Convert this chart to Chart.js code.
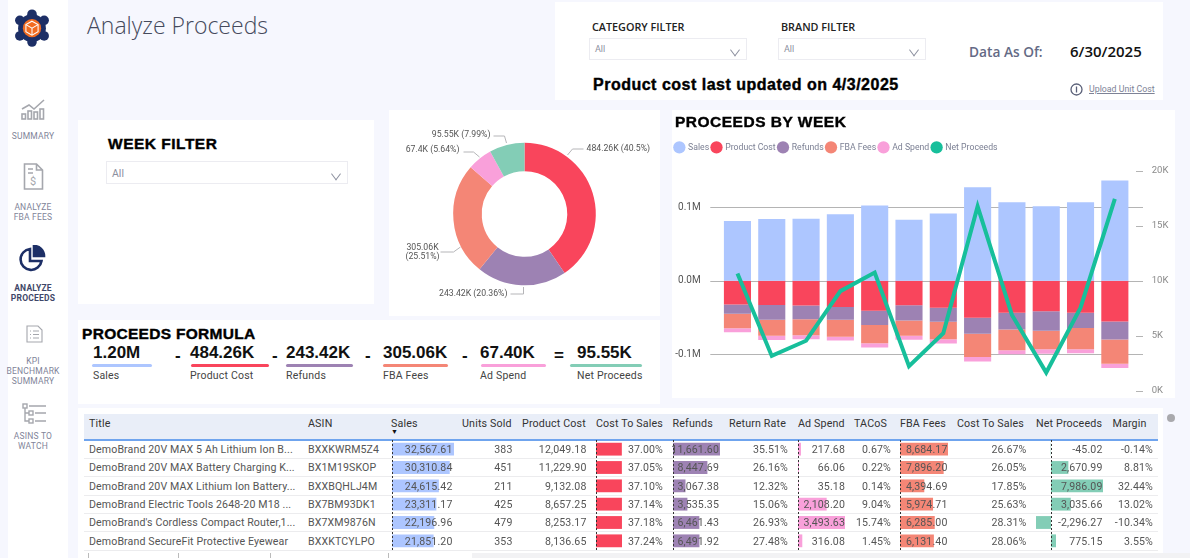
<!DOCTYPE html>
<html>
<head>
<meta charset="utf-8">
<title>Analyze Proceeds</title>
<script src="https://cdn.jsdelivr.net/npm/chart.js@4"></script>
<style>
  html, body { margin: 0; padding: 0; }
  body { width: 1190px; height: 558px; overflow: hidden; position: relative; background: #f6f7fe; font-family: Roboto, sans-serif; }
  .panel { position: absolute; background: #fff; }
  .t { position: absolute; white-space: nowrap; transform: translateY(-50%); }
  .c { transform: translate(-50%, -50%); text-align: center; }
  .black { font-family: "Liberation Sans", Arial, sans-serif; font-weight: 700; color: #000; -webkit-text-stroke: 0.4px #000; }
  .side { font-size: 8.5px; line-height: 10.2px; letter-spacing: 0.2px; color: #7f8499; }
  .drop { position: absolute; background: #fff; border: 1px solid #ececf1; box-sizing: border-box; }
  .drop span { position: absolute; left: 5px; top: 50%; transform: translateY(-50%); font-size: 9px; color: #8b8f9e; }
  .drop i { position: absolute; right: 7px; top: 36%; width: 7px; height: 7px; border-right: 1px solid #8b8f9e; border-bottom: 1px solid #8b8f9e; transform: rotate(45deg) skew(8deg, 8deg); }
  .formula-value { font-family: "Liberation Sans", Arial, sans-serif; font-weight: 700; font-size: 17px; color: #111; }
  .formula-label { font-size: 10.5px; letter-spacing: 0.2px; color: #444; }
  .formula-line { position: absolute; height: 3px; border-radius: 2px; top: 363.5px; }
  canvas { display: block; }
  .chartbox { position: absolute; }
  .th { font-size: 10.7px; letter-spacing: 0.15px; color: #333; z-index: 3; }
  .td { font-size: 10.6px; letter-spacing: 0.12px; color: #555; z-index: 3; }
  .r { transform: translate(-100%, -50%); }
</style>
</head>
<body>
<div class="panel" style="left:8px;top:0;width:60px;height:558px"></div>
<svg style="position:absolute;left:12px;top:9px" width="40" height="40" viewBox="0 0 46 46">
  <g fill="#1d2f66">
    <circle cx="23" cy="22" r="16"/><circle cx="23" cy="6" r="5.5"/><circle cx="23" cy="38" r="5.5"/>
    <circle cx="9" cy="13" r="5.5"/><circle cx="37" cy="13" r="5.5"/><circle cx="9" cy="31" r="5.5"/><circle cx="37" cy="31" r="5.5"/>
  </g>
  <circle cx="23" cy="22" r="10.5" fill="#f26b21"/>
  <path d="M23 14l7 4v8l-7 4-7-4v-8z" fill="#f26b21" stroke="#fff" stroke-width="1.2"/>
  <path d="M16 18l7 4 7-4M23 22v8" fill="none" stroke="#fff" stroke-width="1.2"/>
</svg>
<svg style="position:absolute;left:20px;top:97px" width="27" height="23" viewBox="0 0 27 23" fill="none" stroke="#a5a7ad" stroke-width="1.6">
  <path d="M2 12l7-4 5 4 10-9"/><rect x="2" y="17" width="3.5" height="5"/><rect x="8" y="14" width="3.5" height="8"/><rect x="14" y="15" width="3.5" height="7"/><rect x="20" y="12" width="3.5" height="10"/>
</svg>
<svg style="position:absolute;left:23px;top:163px" width="21" height="27" viewBox="0 0 21 27" fill="none" stroke="#a5a7ad" stroke-width="1.6">
  <path d="M1.500 1h12l6 6v19h-18zM13.500 1v6h6M5 6h5M5 10h5"/><text x="7" y="22" font-size="11" fill="#a5a7ad" stroke="none">$</text>
</svg>
<svg style="position:absolute;left:19px;top:245px" width="27" height="27" viewBox="0 0 27 27" fill="none" stroke="#1d2f66" stroke-width="2.600">
  <path d="M11 4a10.500 10.500 0 1 0 11.500 12h-11.500z"/><path d="M15 1v10h10a10 10 0 0 0-10-10z" fill="#1d2f66"/>
</svg>
<svg style="position:absolute;left:26px;top:325px" width="17" height="18" viewBox="0 0 17 18" fill="none" stroke="#a5a7ad" stroke-width="1.100">
  <path d="M1 1h11l4 4v12h-15zM4 6h1M7 6h6M4 9.500h1M7 9.500h6M4 13h1M7 13h6"/>
</svg>
<svg style="position:absolute;left:22px;top:403px" width="25" height="21" viewBox="0 0 25 21" fill="none" stroke="#a5a7ad" stroke-width="1.400">
  <rect x="1" y="1" width="4" height="4"/><rect x="7" y="8" width="4" height="4"/><rect x="7" y="16" width="4" height="4"/>
  <path d="M3 5v13h4M3 10h4M7 3h17M13 10h11M13 18h11"/>
</svg>
<div class="t c side" style="left:33px;top:136px">SUMMARY</div>
<div class="t c side" style="left:33px;top:212px">ANALYZE<br>FBA FEES</div>
<div class="t c side" style="left:33px;top:293px;color:#3f4768;font-weight:700">ANALYZE<br>PROCEEDS</div>
<div class="t c side" style="left:33px;top:371px">KPI<br>BENCHMARK<br>SUMMARY</div>
<div class="t c side" style="left:33px;top:441px">ASINS TO<br>WATCH</div>

<div class="t" style="left:87px;top:25px;font-family:'Open Sans',sans-serif;font-weight:300;font-size:23px;color:#454a5c">Analyze Proceeds</div>

<div class="panel" style="left:555px;top:2px;width:608px;height:98px"></div>
<div class="t" style="left:592px;top:26px;font-family:'Open Sans',sans-serif;font-weight:600;font-size:10.800px;color:#222">CATEGORY FILTER</div>
<div class="t" style="left:781px;top:26px;font-family:'Open Sans',sans-serif;font-weight:600;font-size:10.800px;color:#222">BRAND FILTER</div>
<div class="drop" style="left:589px;top:38px;width:158px;height:22px"><span>All</span><i></i></div>
<div class="drop" style="left:778px;top:38px;width:148px;height:22px"><span>All</span><i></i></div>
<div class="t" style="left:969px;top:51px;font-family:'Open Sans',sans-serif;font-weight:600;font-size:13.700px;color:#646a85">Data As Of:</div>
<div class="t" style="left:1070px;top:51px;font-family:'Open Sans',sans-serif;font-weight:600;font-size:15px;color:#111">6/30/2025</div>
<div class="t black" style="left:593px;top:85px;font-size:16px;letter-spacing:0.500px">Product cost last updated on 4/3/2025</div>
<svg style="position:absolute;left:1070px;top:83px" width="13" height="13" viewBox="0 0 13 13"><circle cx="6.500" cy="6.500" r="5.500" fill="none" stroke="#5a6078" stroke-width="1.300"/><path d="M6.500 3.500v6" stroke="#5a6078" stroke-width="1.300"/></svg>
<div class="t" style="left:1089px;top:89px;font-size:8.800px;color:#7d8296;text-decoration:underline">Upload Unit Cost</div>

<div class="panel" style="left:78px;top:120px;width:296px;height:184px"></div>
<div class="t black" style="left:108px;top:144px;font-size:15.500px;letter-spacing:0.500px">WEEK FILTER</div>
<div class="drop" style="left:106px;top:161px;width:242px;height:23px"><span style="font-size:10.500px">All</span><i></i></div>

<div class="panel" style="left:389px;top:110px;width:271px;height:206px"></div>
<div class="chartbox" style="left:389px;top:110px;width:271px;height:206px"><canvas id="donutChart"></canvas></div>

<div class="panel" style="left:672px;top:110px;width:503px;height:288px"></div>
<div class="chartbox" style="left:672px;top:110px;width:503px;height:288px"><canvas id="weekChart"></canvas></div>
<div class="t black" style="left:675px;top:122px;font-size:15.500px;letter-spacing:0.500px">PROCEEDS BY WEEK</div>

<div class="panel" style="left:78px;top:320px;width:582px;height:84px"></div>
<div class="t black" style="left:82px;top:334px;font-size:15.500px;letter-spacing:0.300px">PROCEEDS FORMULA</div>
<div id="formula"></div>

<div class="panel" style="left:78px;top:408px;width:1085px;height:150px"></div>
<div style="position:absolute;left:84px;top:414px;width:1074px;height:25px;background:#e9eef8;border-bottom:2px solid #6fa4ee;box-sizing:content-box"></div>
<div style="position:absolute;left:472px;top:553px;width:718px;height:5px;background:#f2f2f4"></div>
<div style="position:absolute;left:1167px;top:414px;width:8px;height:8px;border-radius:50%;background:#a9a9ad"></div>
<div id="table"></div>

<script>
const proceedKeys = ['Sales', 'Product Cost', 'Refunds', 'FBA Fees', 'Ad Spend', 'Net Proceeds'];
const proceedTotals = ['1.20M', '484.26K', '243.42K', '305.06K', '67.40K', '95.55K'];
const palette = ['#adc6ff', '#f9455c', '#9d82b3', '#f48676', '#f9a0da', '#83cdb6'];

// Weekly values
const weeks = ['W1', 'W2', 'W3', 'W4', 'W5', 'W6', 'W7', 'W8', 'W9', 'W10', 'W11', 'W12'];
const weekSales = [81300, 84000, 84400, 90700, 102500, 83100, 91600, 127300, 107000, 101600, 107000, 136800];
const weekCost = [-32500, -33000, -33900, -35700, -41100, -33400, -37000, -50600, -43800, -41500, -43800, -55500];
const weekRefunds = [-12600, -20300, -18500, -17600, -19400, -20800, -19000, -21700, -22600, -26600, -20800, -24800];
const weekFba = [-19900, -21700, -22100, -23000, -24800, -20800, -23900, -31600, -28400, -25300, -28900, -33000];
const weekAds = [-5400, -5900, -5400, -5400, -5900, -5400, -5900, -6300, -5400, -6300, -5400, -5900];
const weekNet = [10650, 3160, 4540, 9050, 10740, 2230, 5230, 16750, 6890, 1650, 7550, 17440];
const leftTicks = [-100000, 0, 100000];
const rightTicks = [0, 5000, 10000, 15000, 20000];

// Doughnut
const donutKeys = ['Product Cost', 'Refunds', 'FBA Fees', 'Ad Spend', 'Net Proceeds'];
const donutValues = [484260, 243420, 305060, 67400, 95550];
const donutLabels = [['484.26K (40.5%)'], ['243.42K (20.36%)'], ['305.06K', '(25.51%)'], ['67.4K (5.64%)'], ['95.55K (7.99%)']];
const donutColors = ['#f9455c', '#9d82b3', '#f48676', '#f9a0da', '#83cdb6'];

// Table rows
const titles = ['DemoBrand 20V MAX 5 Ah Lithium Ion B...', 'DemoBrand 20V MAX Battery Charging K...', 'DemoBrand 20V MAX Lithium Ion Battery...', 'DemoBrand Electric Tools 2648-20 M18 ...', "DemoBrand's Cordless Compact Router,1...", 'DemoBrand SecureFit Protective Eyewear'];
const asins = ['BXXKWRM5Z4', 'BX1M19SKOP', 'BXXBQHLJ4M', 'BX7BM93DK1', 'BX7XM9876N', 'BXXKTCYLPO'];
const sales = [32567.61, 30310.84, 24615.42, 23311.17, 22196.96, 21851.20];
const unitsSold = [383, 451, 211, 425, 479, 353];
const productCost = [12049.18, 11229.90, 9132.08, 8657.25, 8253.17, 8136.65];
const costToSales = [37.00, 37.05, 37.10, 37.14, 37.18, 37.24];
const refunds = [11661.60, 8447.69, 3067.38, 3535.35, 6461.43, 6491.92];
const returnRate = [35.51, 26.16, 12.32, 15.06, 26.93, 27.48];
const adSpend = [217.68, 66.06, 35.18, 2108.20, 3493.63, 316.08];
const tacos = [0.67, 0.22, 0.14, 9.04, 15.74, 1.45];
const fbaFees = [8684.17, 7896.20, 4394.69, 5974.71, 6285.00, 6131.40];
const feeToSales = [26.67, 26.05, 17.85, 25.63, 28.31, 28.06];
const netProceeds = [-45.02, 2670.99, 7986.09, 3035.66, -2296.27, 775.15];
const margin = [-0.14, 8.81, 32.44, 13.02, -10.34, 3.55];

function money(v) {
    return v.toLocaleString('en-US', { minimumFractionDigits: 2, maximumFractionDigits: 2 });
}
function percent(v) {
    return v.toFixed(2) + '%';
}
function addDiv(parent, className, style, html) {
    const el = document.createElement('div');
    el.className = className;
    el.style.cssText = style;
    el.innerHTML = html || '';
    parent.appendChild(el);
    return el;
}

// Formula strip
const formula = document.getElementById('formula');
const formulaX = [93, 190, 286, 383, 480, 577];
const lineX = [[92, 60], [191, 78], [286, 67], [383, 65], [481, 65], [570, 72]];
const formulaOps = [[175, '-'], [272, '-'], [365, '-'], [462, '-'], [554, '=']];
proceedKeys.forEach(function(key, i) {
    addDiv(formula, 't formula-value', 'left:' + formulaX[i] + 'px;top:352.5px', proceedTotals[i]);
    addDiv(formula, 'formula-line', 'left:' + lineX[i][0] + 'px;width:' + lineX[i][1] + 'px;background:' + palette[i]);
    addDiv(formula, 't formula-label', 'left:' + formulaX[i] + 'px;top:375px', key);
});
formulaOps.forEach(function(op) {
    addDiv(formula, 't formula-value', 'left:' + op[0] + 'px;top:356px', op[1]);
});

// Table text
const table = document.getElementById('table');
const rowY = [449, 467.3, 485.6, 503.9, 522.2, 540.5];
const headers = [
    ['Title', 89], ['ASIN', 308], ['Sales', 391], ['Units Sold', 462], ['Product Cost', 522], ['Cost To Sales', 596],
    ['Refunds', 672.5], ['Return Rate', 729], ['Ad Spend', 798], ['TACoS', 854], ['FBA Fees', 900], ['Cost To Sales', 957],
    ['Net Proceeds', 1036], ['Margin', 1112.5]
];
headers.forEach(function(h) {
    addDiv(table, 't th', 'left:' + h[1] + 'px;top:423px', h[0]);
});
addDiv(table, 't th', 'left:391px;top:432px;font-size:7px;line-height:7px;color:#111', '▼');

const columns = [
    [sales, money, 452.5], [unitsSold, String, 512.5], [productCost, money, 586.5], [costToSales, percent, 663],
    [refunds, money, 719], [returnRate, percent, 788], [adSpend, money, 845], [tacos, percent, 891],
    [fbaFees, money, 947.5], [feeToSales, percent, 1026.5], [netProceeds, money, 1102.5], [margin, percent, 1153]
];
rowY.forEach(function(y, r) {
    addDiv(table, 't td', 'left:89px;top:' + y + 'px', titles[r]);
    addDiv(table, 't td', 'left:308px;top:' + y + 'px', asins[r]);
    addDiv(table, '', 'position:absolute;left:84px;width:1074px;height:1px;background:#ececee;top:' + (y + 9.1) + 'px');
    columns.forEach(function(col) {
        addDiv(table, 't td r', 'left:' + col[2] + 'px;top:' + y + 'px', col[1](col[0][r]));
    });
});
[88, 178, 270, 388].forEach(function(x) {
    addDiv(table, '', 'position:absolute;top:553px;height:5px;width:1px;background:#bbb;left:' + x + 'px');
});

// In-cell data bars, one small horizontal bar chart per column
const zeroLine = {
    id: 'zeroLine',
    afterDraw: function(chart) {
        const x = Math.round(chart.scales.x.getPixelForValue(0)) + 0.5;
        const ctx = chart.ctx;
        ctx.save();
        ctx.strokeStyle = '#333';
        ctx.setLineDash([2, 2]);
        ctx.beginPath();
        ctx.moveTo(x, 0);
        ctx.lineTo(x, chart.height);
        ctx.stroke();
        ctx.restore();
    }
};
const barColumns = [
    [sales, palette[0], 391.5, 62],
    [costToSales, palette[1], 596, 26],
    [refunds, palette[2], 672.5, 47.5],
    [adSpend, palette[4], 797.5, 47.5],
    [fbaFees, palette[3], 900, 48],
    [netProceeds, palette[5], 1036, 67]
];
barColumns.forEach(function(col) {
    const box = addDiv(document.body, 'chartbox', 'z-index:2;top:439.9px;height:110px;left:' + col[2] + 'px;width:' + col[3] + 'px', '<canvas></canvas>');
    new Chart(box.firstChild, {
        type: 'bar',
        data: {
            labels: titles,
            datasets: [{ data: col[0], backgroundColor: col[1], barPercentage: 0.7, categoryPercentage: 1 }]
        },
        options: {
            indexAxis: 'y',
            responsive: true,
            maintainAspectRatio: false,
            animation: false,
            events: [],
            plugins: { legend: { display: false }, tooltip: { enabled: false } },
            scales: {
                x: {
                    display: false,
                    min: Math.min(0, Math.min.apply(null, col[0])),
                    max: Math.max.apply(null, col[0])
                },
                y: { display: false }
            }
        },
        plugins: [zeroLine]
    });
});

// Donut with hand placed leader lines, offsets from the centre of the ring
const donutLeaders = [
    { path: [[43, -59], [48, -65], [59, -65]], text: [62, -65], align: 'left' },
    { path: [[-1, 73], [-1, 80], [-14, 80]], text: [-17, 80], align: 'right' },
    { path: [[-64, 33], [-71, 38], [-84, 38]], text: [-102, 34], align: 'center' },
    { path: [[-45, -57], [-51, -62], [-61, -62]], text: [-65, -64], align: 'right' },
    { path: [[-18, -71], [-20, -78], [-31, -78]], text: [-34, -79], align: 'right' }
];
const donutNotes = {
    id: 'donutNotes',
    afterDraw: function(chart) {
        const arc = chart.getDatasetMeta(0).data[0];
        const ctx = chart.ctx;
        ctx.save();
        ctx.strokeStyle = '#b5b5b8';
        ctx.fillStyle = '#555';
        ctx.font = '8.7px Roboto';
        ctx.textBaseline = 'middle';
        donutLeaders.forEach(function(leader, i) {
            ctx.beginPath();
            leader.path.forEach(function(p, k) {
                ctx[k ? 'lineTo' : 'moveTo'](arc.x + p[0], arc.y + p[1]);
            });
            ctx.stroke();
            ctx.textAlign = leader.align;
            donutLabels[i].forEach(function(line, k) {
                ctx.fillText(line, arc.x + leader.text[0], arc.y + leader.text[1] + k * 8.5);
            });
        });
        ctx.restore();
    }
};
new Chart(document.getElementById('donutChart'), {
    type: 'doughnut',
    data: {
        labels: donutKeys,
        datasets: [{ data: donutValues, backgroundColor: donutColors, borderWidth: 0 }]
    },
    options: {
        responsive: true,
        maintainAspectRatio: false,
        animation: false,
        radius: 71.3,
        cutout: '60%',
        layout: { padding: { top: 2 } },
        plugins: { legend: { display: false }, tooltip: { enabled: false } }
    },
    plugins: [donutNotes]
});

// Proceeds by week
const axisMarks = {
    id: 'axisMarks',
    beforeDatasetsDraw: function(chart) {
        const area = chart.chartArea;
        const ctx = chart.ctx;
        ctx.save();
        ctx.strokeStyle = '#b4b4b4';
        ctx.lineWidth = 1;
        leftTicks.forEach(function(v) {
            const y = Math.round(chart.scales.y.getPixelForValue(v)) + 0.5;
            ctx.beginPath();
            ctx.moveTo(area.left - 10, y);
            ctx.lineTo(area.right + 11, y);
            ctx.stroke();
        });
        rightTicks.forEach(function(v) {
            const y = Math.round(chart.scales.y1.getPixelForValue(v)) + 0.5;
            ctx.beginPath();
            ctx.moveTo(area.right + 4, y);
            ctx.lineTo(area.right + 11, y);
            ctx.stroke();
        });
        ctx.restore();
    }
};
const legendGap = {
    id: 'legendGap',
    beforeInit: function(chart) {
        const fit = chart.legend.fit;
        chart.legend.fit = function() {
            fit.call(this);
            this.height += 9;
        };
    }
};
function barSet(label, values, color) {
    return { type: 'bar', label: label, data: values, backgroundColor: color, barPercentage: 0.79, categoryPercentage: 1, order: 1, yAxisID: 'y' };
}
function fixAxis(scale, width) {
    scale.width = width;
    scale.paddingTop = 0;
    scale.paddingBottom = 0;
}
new Chart(document.getElementById('weekChart'), {
    data: {
        labels: weeks,
        datasets: [
            barSet('Sales', weekSales, palette[0]),
            barSet('Product Cost', weekCost, palette[1]),
            barSet('Refunds', weekRefunds, palette[2]),
            barSet('FBA Fees', weekFba, palette[3]),
            barSet('Ad Spend', weekAds, palette[4]),
            {
                type: 'line',
                label: 'Net Proceeds',
                data: weekNet,
                borderColor: '#17bf9b',
                backgroundColor: '#17bf9b',
                borderWidth: 4,
                pointRadius: 0,
                tension: 0,
                order: 0,
                yAxisID: 'y1'
            }
        ]
    },
    options: {
        responsive: true,
        maintainAspectRatio: false,
        animation: false,
        layout: { padding: { top: 30, bottom: 7.3 } },
        plugins: {
            tooltip: { enabled: false },
            legend: {
                position: 'top',
                align: 'start',
                labels: {
                    usePointStyle: true,
                    pointStyle: 'circle',
                    boxWidth: 9,
                    boxHeight: 9,
                    padding: 3,
                    color: '#7c8094',
                    font: { family: 'Roboto', size: 8.7 },
                    sort: function(a, b) { return a.datasetIndex - b.datasetIndex; },
                    generateLabels: function(chart) {
                        return Chart.defaults.plugins.legend.labels.generateLabels(chart).map(function(item) {
                            item.lineWidth = 0;
                            return item;
                        });
                    }
                }
            }
        },
        scales: {
            x: { stacked: true, display: false },
            y: {
                stacked: true,
                min: -150000,
                max: 150000,
                position: 'left',
                afterFit: function(scale) { fixAxis(scale, 48.3); },
                afterBuildTicks: function(scale) { scale.ticks = leftTicks.map(function(v) { return { value: v }; }); },
                grid: { display: false, drawTicks: false },
                border: { display: false },
                ticks: {
                    padding: 19.6,
                    color: '#555',
                    font: { family: 'Roboto', size: 10 },
                    callback: function(value) { return (value / 1000000).toFixed(1) + 'M'; }
                }
            },
            y1: {
                min: 0,
                max: 20000,
                position: 'right',
                afterFit: function(scale) { fixAxis(scale, 43); },
                afterBuildTicks: function(scale) { scale.ticks = rightTicks.map(function(v) { return { value: v }; }); },
                grid: { display: false, drawTicks: false },
                border: { display: false },
                ticks: {
                    padding: 19.7,
                    color: '#8a8a8a',
                    font: { family: 'Roboto', size: 9.5 },
                    callback: function(value) { return (value / 1000) + 'K'; }
                }
            }
        }
    },
    plugins: [axisMarks, legendGap]
});
</script>
</body>
</html>
